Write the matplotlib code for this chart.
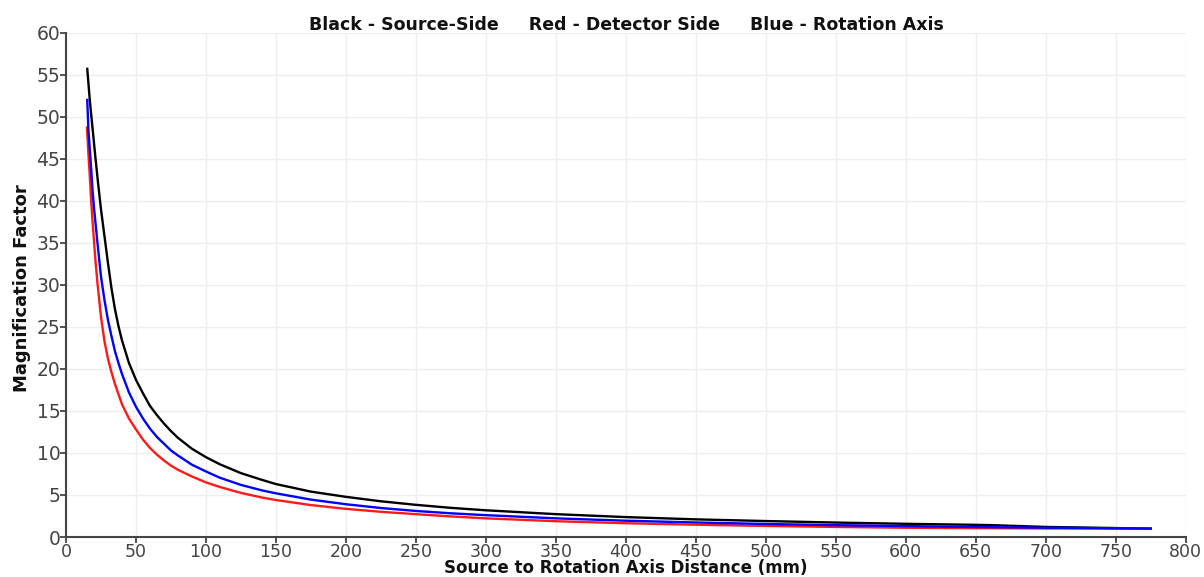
import matplotlib
matplotlib.use("Agg")
import matplotlib.pyplot as plt

# Magnification factor versus source-to-rotation-axis distance (mm)
source_x = [15.2, 17, 19, 21, 23, 25, 27.5, 30, 32.5, 35, 37.5, 40, 45, 50, 55, 60, 65,
            70, 75, 80, 90, 100, 110, 125, 140, 150, 175, 200, 225, 250, 275, 300, 350,
            400, 450, 500, 550, 600, 650, 660, 700, 775]
source_side = [55.7, 52.0, 48.6, 45.2, 42.0, 39.0, 35.8, 32.6, 29.6, 27.1, 25.1, 23.4,
               20.7, 18.7, 17.1, 15.6, 14.5, 13.5, 12.6, 11.8, 10.5, 9.5, 8.65, 7.6,
               6.8, 6.3, 5.4, 4.78, 4.25, 3.83, 3.47, 3.18, 2.72, 2.37, 2.1, 1.9, 1.72,
               1.57, 1.45, 1.42, 1.2, 1.0]

detector_x = [15, 16, 17, 18, 19, 20, 21, 22.5, 25, 27.5, 30, 32.5, 35, 37.5, 40, 45,
              50, 55, 60, 65, 70, 75, 80, 90, 100, 110, 125, 140, 150, 175, 200, 225,
              250, 275, 300, 350, 400, 450, 500, 550, 600, 650, 700, 775]
detector_side = [48.7, 45.7, 43.0, 40.0, 37.5, 35.3, 33.0, 30.2, 26.2, 23.3, 21.2, 19.6,
                 18.2, 17.0, 15.8, 14.1, 12.8, 11.6, 10.6, 9.8, 9.1, 8.5, 8.0, 7.2, 6.5,
                 5.95, 5.25, 4.7, 4.4, 3.8, 3.35, 3.0, 2.72, 2.45, 2.22, 1.88, 1.64,
                 1.46, 1.32, 1.2, 1.1, 1.05, 1.02, 1.0]

axis_x = [15.2, 16, 17.5, 19, 20, 22.5, 25, 27.5, 30, 32.5, 35, 37.5, 40, 45, 50, 55,
          60, 65, 70, 75, 80, 90, 100, 110, 125, 140, 150, 175, 200, 225, 250, 275, 300,
          350, 400, 450, 500, 550, 600, 650, 700, 775]
rotation_axis = [52.0, 48.5, 45.0, 41.2, 39.2, 35.0, 31.0, 28.2, 25.8, 23.9, 22.1, 20.7,
                 19.4, 17.2, 15.5, 14.1, 12.9, 11.9, 11.1, 10.3, 9.7, 8.6, 7.8, 7.05,
                 6.2, 5.55, 5.2, 4.45, 3.9, 3.45, 3.1, 2.82, 2.6, 2.22, 1.94, 1.73, 1.55,
                 1.41, 1.3, 1.19, 1.11, 1.0]

x_ticks = list(range(0, 801, 50))
y_ticks = list(range(0, 61, 5))

title_text = "Black - Source-Side     Red - Detector Side     Blue - Rotation Axis"
x_label = "Source to Rotation Axis Distance (mm)"
y_label = "Magnification Factor"

plt.rcParams["font.family"] = ["DejaVu Sans"]

fig = plt.figure(figsize=(12.04, 5.77), dpi=100)
ax = fig.add_axes([0.0548, 0.0693, 0.930, 0.874])

ax.plot(source_x, source_side, color="black", lw=1.7, zorder=3)
ax.plot(detector_x, detector_side, color="#ff1a1a", lw=1.7, zorder=4)
ax.plot(axis_x, rotation_axis, color="#0000ff", lw=1.7, zorder=5)

ax.set_xlim(0, 800)
ax.set_ylim(0, 60)
ax.set_xticks(x_ticks)
ax.set_yticks(y_ticks)
ax.grid(True, color="#eeeeee", lw=1.0, zorder=0)
ax.set_axisbelow(True)

for side in ("top", "right"):
    ax.spines[side].set_visible(False)
for side in ("left", "bottom"):
    ax.spines[side].set_color("#444444")
    ax.spines[side].set_linewidth(1.5)

ax.tick_params(axis="both", direction="out", length=4, width=1.3, color="#444444",
               labelsize=12.5, labelcolor="#444444", pad=0)
ax.tick_params(axis="y", labelsize=13.5)

fig.text(0.52, 0.957, title_text, ha="center", va="center", fontsize=12.5,
         fontweight="bold", color="#111111")
fig.text(0.52, 0.0, x_label, ha="center", va="bottom", fontsize=12,
         fontweight="bold", color="#111111")
fig.text(0.018, 0.50, y_label, ha="center", va="center", rotation=90, fontsize=13,
         fontweight="bold", color="#111111")

fig.savefig("out.png", dpi=100, facecolor="white")
